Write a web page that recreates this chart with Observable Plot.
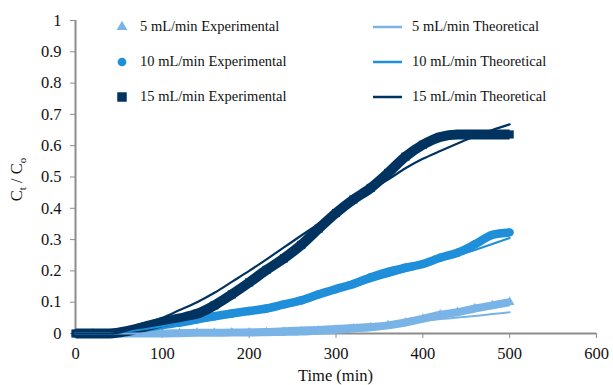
<!DOCTYPE html>
<html>
<head>
<meta charset="utf-8">
<script src="https://cdn.jsdelivr.net/npm/d3@7"></script>
<script src="https://cdn.jsdelivr.net/npm/@observablehq/plot@0.6"></script>
<style>
  html, body { margin: 0; padding: 0; background: #fff; }
  #chart { position: relative; width: 613px; height: 385px; font-family: "Liberation Serif", "Times New Roman", serif; }
  #chart svg text { font-family: "Liberation Serif", "Times New Roman", serif; }
  #legend { position: absolute; left: 0; top: 0; font-size: 14.5px; color: #111; }
  .item { position: absolute; display: flex; align-items: center; white-space: nowrap; }
  .item svg { margin-right: 8px; overflow: visible; }
</style>
</head>
<body>
<div id="chart"><div id="legend"></div></div>
<script>
// Sampling times (min)
const times = [0, 20, 40, 60, 80, 100, 120, 140, 160, 180, 200, 220, 240, 260, 280, 300, 320, 340, 360, 380, 400, 420, 440, 460, 480, 500];

// Measured breakthrough Ct/Co
const exp5  = [0, 0, 0, 0, 0, 0, 0.001, 0.002, 0.002, 0.003, 0.003, 0.004, 0.005, 0.006, 0.009, 0.012, 0.016, 0.02, 0.026, 0.035, 0.047, 0.06, 0.068, 0.08, 0.09, 0.1];
const exp10 = [0, 0, 0, 0.008, 0.018, 0.027, 0.035, 0.045, 0.055, 0.064, 0.072, 0.08, 0.093, 0.106, 0.125, 0.142, 0.158, 0.18, 0.197, 0.21, 0.222, 0.242, 0.258, 0.285, 0.315, 0.323];
const exp15 = [0, 0, 0, 0.008, 0.022, 0.036, 0.048, 0.063, 0.09, 0.125, 0.163, 0.203, 0.24, 0.283, 0.335, 0.385, 0.428, 0.465, 0.513, 0.565, 0.603, 0.628, 0.636, 0.636, 0.636, 0.636];

// Model predictions Ct/Co
const theo5  = [0, 0, 0, 0, 0.001, 0.003, 0.004, 0.006, 0.008, 0.01, 0.012, 0.014, 0.017, 0.019, 0.021, 0.024, 0.027, 0.03, 0.033, 0.037, 0.041, 0.046, 0.051, 0.056, 0.062, 0.068];
const theo10 = [0, 0, 0, 0.006, 0.014, 0.023, 0.033, 0.043, 0.053, 0.063, 0.073, 0.083, 0.094, 0.106, 0.12, 0.135, 0.15, 0.167, 0.183, 0.199, 0.215, 0.232, 0.249, 0.267, 0.286, 0.305];
const theo15 = [0, 0, 0, 0.01, 0.03, 0.05, 0.075, 0.1, 0.13, 0.165, 0.2, 0.237, 0.275, 0.313, 0.35, 0.388, 0.425, 0.46, 0.492, 0.528, 0.558, 0.583, 0.607, 0.63, 0.65, 0.668];

const flowLabels = ["5 mL/min", "10 mL/min", "15 mL/min"];
const colors = ["#7ab4e6", "#1f8fda", "#003360"];
const symbols = ["triangle", "circle", "square"];
const xTicks = [0, 100, 200, 300, 400, 500, 600];
const yTicks = [0, 0.1, 0.2, 0.3, 0.4, 0.5, 0.6, 0.7, 0.8, 0.9, 1];

const rows = (vals) => times.map((t, i) => ({t, c: vals[i]}));
const expSeries = [exp5, exp10, exp15].map(rows);
const theoSeries = [theo5, theo10, theo15].map(rows);

const bandWidth = [8, 8.5, 10];
const dotR = [3.6, 4.2, 4.6];
const axisGray = "#8c8c8c";
const font = "Liberation Serif, Times New Roman, serif";

const marks = [
  Plot.ruleX([0], {y1: 0, y2: 1, stroke: axisGray, strokeWidth: 2}),
  Plot.ruleY([0], {x1: 0, x2: 600, stroke: axisGray, strokeWidth: 2}),
  Plot.axisX({ticks: xTicks, tickSize: 5, tickPadding: 9, stroke: axisGray, fontSize: 16.5, fontFamily: font, label: null, color: "#111"}),
  Plot.axisY({ticks: yTicks, tickSize: 5, tickPadding: 9, stroke: axisGray, fontSize: 16.5, fontFamily: font, label: null, tickFormat: d => String(d), color: "#111"})
];
expSeries.forEach((data, i) => {
  marks.push(Plot.line(data, {x: "t", y: "c", stroke: colors[i], strokeWidth: bandWidth[i], strokeLinejoin: "round", strokeLinecap: "butt", curve: "monotone-x"}));
  marks.push(Plot.dot(data, {x: "t", y: "c", fill: colors[i], r: dotR[i], symbol: symbols[i]}));
});
theoSeries.forEach((data, i) => {
  marks.push(Plot.line(data, {x: "t", y: "c", stroke: colors[i], strokeWidth: i === 2 ? 2.2 : 2, curve: "monotone-x"}));
});

const plot = Plot.plot({
  width: 613,
  height: 385,
  marginTop: 20,
  marginRight: 17,
  marginBottom: 52,
  marginLeft: 75,
  style: {fontFamily: font, background: "#fff", overflow: "visible"},
  x: {domain: [0, 600], axis: null},
  y: {domain: [0, 1], axis: null},
  marks
});
plot.style.fontFamily = font;

const chart = document.getElementById("chart");
chart.insertBefore(plot, chart.firstChild);

// Axis titles
const svg = d3.select(plot);
const xs = plot.scale("x"), ys = plot.scale("y");
svg.append("text")
  .attr("x", (xs.apply(0) + xs.apply(600)) / 2)
  .attr("y", 381)
  .attr("text-anchor", "middle")
  .attr("font-size", 16.5)
  .attr("fill", "#111")
  .text("Time (min)");
const yl = svg.append("text")
  .attr("transform", `translate(22,${(ys.apply(0) + ys.apply(1)) / 2 + 3}) rotate(-90)`)
  .attr("text-anchor", "middle")
  .attr("font-size", 16.5)
  .attr("fill", "#111");
yl.append("tspan").text("C");
yl.append("tspan").attr("font-size", 11).attr("dy", 4).text("t");
yl.append("tspan").attr("dy", -4).text(" / C");
yl.append("tspan").attr("font-size", 11).attr("dy", 4).text("o");

// Legend (two columns inside the plot area)
const legend = document.getElementById("legend");
const rowY = [27, 62, 97];
flowLabels.forEach((lab, i) => {
  const a = document.createElement("div");
  a.className = "item";
  a.style.left = "116px";
  a.style.top = (rowY[i] - 9) + "px";
  const sym = d3.create("svg").attr("width", 12).attr("height", 12);
  sym.append("path")
    .attr("transform", "translate(6,6)")
    .attr("d", d3.symbol(symbols[i] === "triangle" ? d3.symbolTriangle : symbols[i] === "circle" ? d3.symbolCircle : d3.symbolSquare, i === 0 ? 50 : i === 1 ? 60 : 90)())
    .attr("fill", colors[i]);
  a.appendChild(sym.node());
  const ta = document.createElement("span");
  ta.style.marginLeft = "4px";
  ta.textContent = lab + " Experimental";
  a.appendChild(ta);
  legend.appendChild(a);

  const b = document.createElement("div");
  b.className = "item";
  b.style.left = "373px";
  b.style.top = (rowY[i] - 9) + "px";
  const ln = d3.create("svg").attr("width", 29).attr("height", 12);
  ln.append("line").attr("x1", 0).attr("x2", 29).attr("y1", 6).attr("y2", 6)
    .attr("stroke", colors[i]).attr("stroke-width", 2.5);
  b.appendChild(ln.node());
  const tb = document.createElement("span");
  tb.style.marginLeft = "2px";
  tb.textContent = lab + " Theoretical";
  b.appendChild(tb);
  legend.appendChild(b);
});
</script>
</body>
</html>
